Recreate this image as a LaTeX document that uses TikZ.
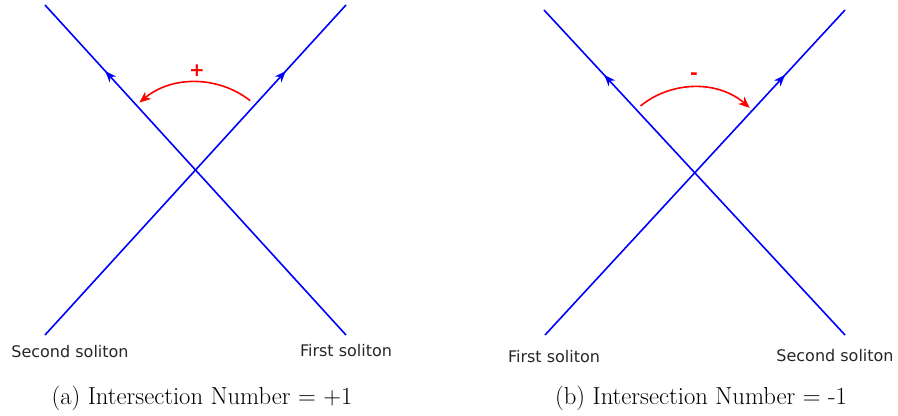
\documentclass[tikz,border=0pt]{standalone}
\usepackage{fontspec}
\newfontfamily\labelfont{DejaVu Sans}
\usetikzlibrary{arrows.meta,decorations.markings}
\begin{document}
\begin{tikzpicture}[x=0.75pt,y=0.75pt,
  soliton/.style={blue, line width=1.2pt, postaction={decorate},
    decoration={markings, mark=at position 0.80 with {\arrow{Stealth[length=8.5pt,width=6.5pt,inset=2.5pt]}}}},
  turn/.style={red, line width=1.2pt, -{Stealth[length=8.5pt,width=7pt,inset=2.5pt]}},
  lab/.style={font=\labelfont\fontsize{12pt}{14pt}\selectfont, text=black!85},
  sign/.style={red, font=\labelfont\bfseries\fontsize{14pt}{16pt}\selectfont},
  captext/.style={font=\fontsize{18.5pt}{21pt}\selectfont}]
\useasboundingbox (0,0) rectangle (898,415);
% ---- left panel ----
\coordinate (a1s) at (346,80);
\coordinate (a1e) at (45,410);
\coordinate (a2s) at (45,80);
\coordinate (a2e) at (346,410);
\coordinate (ac) at (196,245);
\draw[soliton] (a1s) -- (a1e);
\draw[soliton] (a2s) -- (a2e);
\draw[turn] ([shift={(52:66pt)}]ac) arc[start angle=52, end angle=130, radius=66pt];
\node[sign] (aplus) at (197,344) {+};
\node[lab] (asec) at (70,63) {Second soliton};
\node[lab] (afir) at (346,64) {First soliton};
\node[captext] (acap) at (202,17) {(a) Intersection Number = +1};
% ---- right panel ----
\coordinate (b1s) at (845,80);
\coordinate (b1e) at (544,405);
\coordinate (b2s) at (545,80);
\coordinate (b2e) at (845,405);
\coordinate (bc) at (694,243);
\draw[soliton] (b1s) -- (b1e);
\draw[soliton] (b2s) -- (b2e);
\draw[turn] ([shift={(129:63.75pt)}]bc) arc[start angle=129, end angle=49, radius=63.75pt];
\node[sign] (bminus) at (694,339) {-};
\node[lab] (bfir) at (554,58) {First soliton};
\node[lab] (bsec) at (835,59) {Second soliton};
\node[captext] (bcap) at (701,17) {(b) Intersection Number = -1};
\end{tikzpicture}
\end{document}
